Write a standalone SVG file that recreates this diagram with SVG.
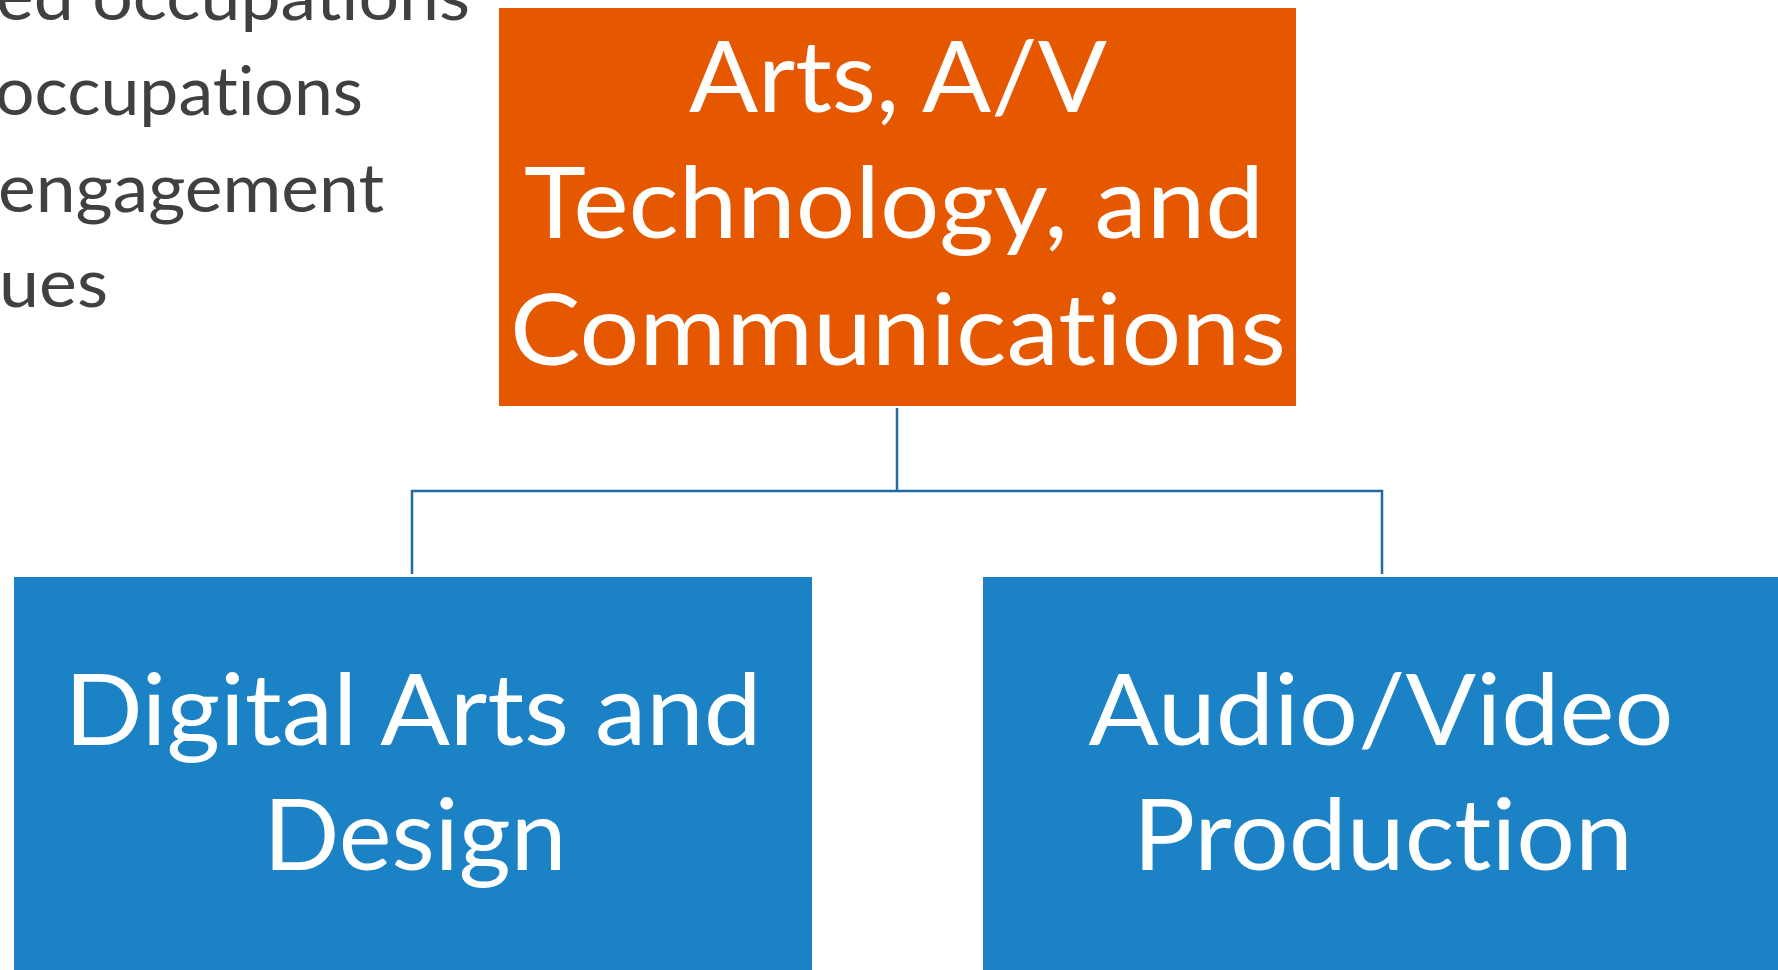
<svg xmlns="http://www.w3.org/2000/svg" width="1778" height="970" viewBox="0 0 1778 970">
<style>
.bg{fill:#ffffff}
.top{fill:#E55800}
.child{fill:#1B82C6}
text{font-variant-ligatures:none;font-feature-settings:"liga" 0,"clig" 0,"dlig" 0}
.lbl{font-family:Lato,"Open Sans","Liberation Sans",sans-serif;fill:#ffffff;font-size:99px;text-anchor:middle}
.side{font-family:Lato,"Open Sans","Liberation Sans",sans-serif;fill:#404040;font-size:68px}
.conn{fill:none;stroke:#1F6BA1;stroke-width:2.5}
</style>
<rect class="bg" x="0" y="0" width="1778" height="970"/>
<g id="side-text">
<text class="side" x="-4" y="20" textLength="474" lengthAdjust="spacingAndGlyphs">ed occupations</text>
<text class="side" x="-5" y="115" textLength="368" lengthAdjust="spacingAndGlyphs">occupations</text>
<text class="side" x="-2" y="212" textLength="386" lengthAdjust="spacingAndGlyphs">engagement</text>
<text class="side" x="-1" y="307" textLength="109" lengthAdjust="spacingAndGlyphs">ues</text>
</g>
<g id="connectors">
<path class="conn" d="M897 408 V491"/>
<path class="conn" d="M412 574 V491 H1382 V574"/>
</g>
<g id="node-arts">
<rect class="top" x="499" y="8" width="797" height="398"/>
<text class="lbl" x="898" y="112" textLength="418" lengthAdjust="spacingAndGlyphs">Arts, A/V</text>
<text class="lbl" x="894" y="238" textLength="740" lengthAdjust="spacingAndGlyphs">Technology, and</text>
<text class="lbl" x="898" y="365" textLength="776" lengthAdjust="spacingAndGlyphs">Communications</text>
</g>
<g id="node-digital">
<rect class="child" x="14" y="577" width="798" height="393"/>
<text class="lbl" x="413" y="745" textLength="697" lengthAdjust="spacingAndGlyphs">Digital Arts and</text>
<text class="lbl" x="415" y="870" textLength="303" lengthAdjust="spacingAndGlyphs">Design</text>
</g>
<g id="node-av">
<rect class="child" x="983" y="577" width="798" height="393"/>
<text class="lbl" x="1381" y="745" textLength="585" lengthAdjust="spacingAndGlyphs">Audio/Video</text>
<text class="lbl" x="1383" y="870" textLength="500" lengthAdjust="spacingAndGlyphs">Production</text>
</g>
</svg>
